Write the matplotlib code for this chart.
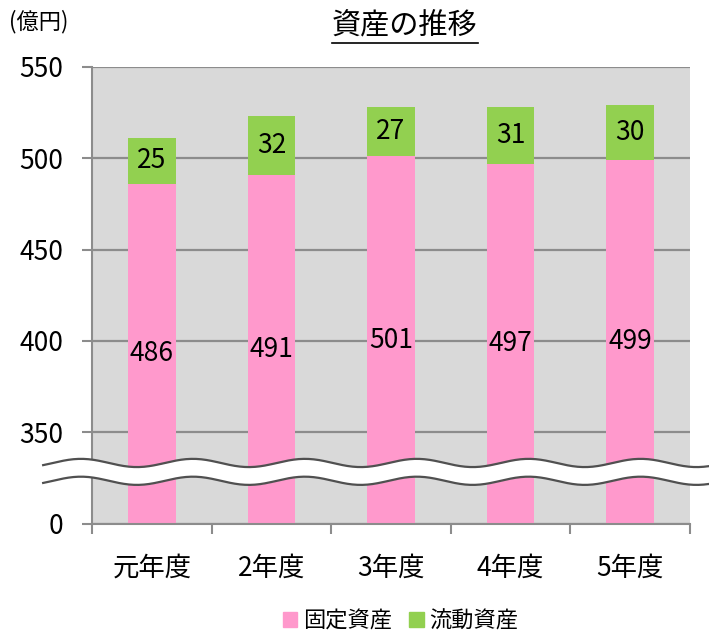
import numpy as np
import matplotlib
matplotlib.use("Agg")
import matplotlib.pyplot as plt
from matplotlib.lines import Line2D
from matplotlib.patches import Patch

plt.rcParams['font.family'] = ['Noto Sans CJK JP', 'DejaVu Sans']

categories = ['元年度', '2年度', '3年度', '4年度', '5年度']
fixed_assets = [486, 491, 501, 497, 499]
current_assets = [25, 32, 27, 31, 30]
y_ticks = [0, 350, 400, 450, 500, 550]

PINK = '#FF99CC'
GREEN = '#92D050'
GRID = '#8C8C8C'


# broken axis: 0-350 squeezed into the height of one 50 step
def fwd(v):
    v = np.asarray(v, dtype=float)
    return np.where(v <= 350, v / 7.0, v - 300)


def inv(m):
    m = np.asarray(m, dtype=float)
    return np.where(m <= 50, m * 7.0, m + 300)


fig = plt.figure(figsize=(7.09, 6.31), dpi=100)
ax = fig.add_axes([0.130, 0.170, 0.843, 0.724])
ax.set_facecolor('#D9D9D9')
ax.set_yscale('function', functions=(fwd, inv))
ax.set_ylim(0, 550)
ax.set_xlim(-0.5, len(categories) - 0.5)
ax.set_axisbelow(True)

x = np.arange(len(categories))
b1 = ax.bar(x, fixed_assets, width=0.4, color=PINK, label='固定資産')
b2 = ax.bar(x, current_assets, width=0.4, bottom=fixed_assets, color=GREEN, label='流動資産')
ax.bar_label(b1, label_type='center', fontsize=19)
ax.bar_label(b2, label_type='center', fontsize=19)

ax.set_yticks(y_ticks)
ax.set_yticklabels([str(t) for t in y_ticks], fontsize=19)
ax.yaxis.grid(True, color=GRID, linewidth=1.6)
ax.set_xticks(x)
ax.set_xticklabels(categories, fontsize=19)
ax.set_xticks(np.arange(-0.5, len(categories)), minor=True)
ax.tick_params(axis='x', which='major', length=0, pad=22)
ax.tick_params(axis='x', which='minor', length=7, width=1.5, color=GRID)
ax.tick_params(axis='y', length=7, width=1.5, color=GRID, pad=14)
for side in ['top', 'right']:
    ax.spines[side].set_visible(False)
for side in ['left', 'bottom']:
    ax.spines[side].set_color(GRID)
    ax.spines[side].set_linewidth(1.5)

# wavy break band
wx = np.linspace(-0.082, 1.04, 400)
wave = 0.009 * np.sin(2 * np.pi * (wx * 598) / 112 + 2.2)
top = 0.133 + wave
bot = 0.094 + wave
ax.fill_between(wx, bot, top, color='white', transform=ax.transAxes,
                clip_on=False, zorder=5, linewidth=0)
ax.plot(wx, top, color='#505050', lw=1.6, transform=ax.transAxes, clip_on=False, zorder=6)
ax.plot(wx, bot, color='#505050', lw=1.6, transform=ax.transAxes, clip_on=False, zorder=6)

fig.text(0.012, 0.966, '(億円)', fontsize=16, ha='left', va='center')
title = fig.text(0.571, 0.958, '資産の推移', fontsize=21, ha='center', va='center')

handles = [Patch(color=PINK, label='固定資産'), Patch(color=GREEN, label='流動資産')]
fig.legend(handles=handles, loc='center', bbox_to_anchor=(0.565, 0.016), ncol=2,
           frameon=False, fontsize=16, handlelength=0.65, handleheight=0.65,
           handletextpad=0.25, columnspacing=0.8)

# underline the title
fig.canvas.draw()
bb = title.get_window_extent()
inv_fig = fig.transFigure.inverted()
(x0, y0), (x1, _) = inv_fig.transform([(bb.x0, bb.y0 - 1), (bb.x1, bb.y0 - 1)])
fig.add_artist(Line2D([x0, x1], [y0, y0], color='black', lw=1.2, transform=fig.transFigure))

fig.savefig('out.png', dpi=100)
